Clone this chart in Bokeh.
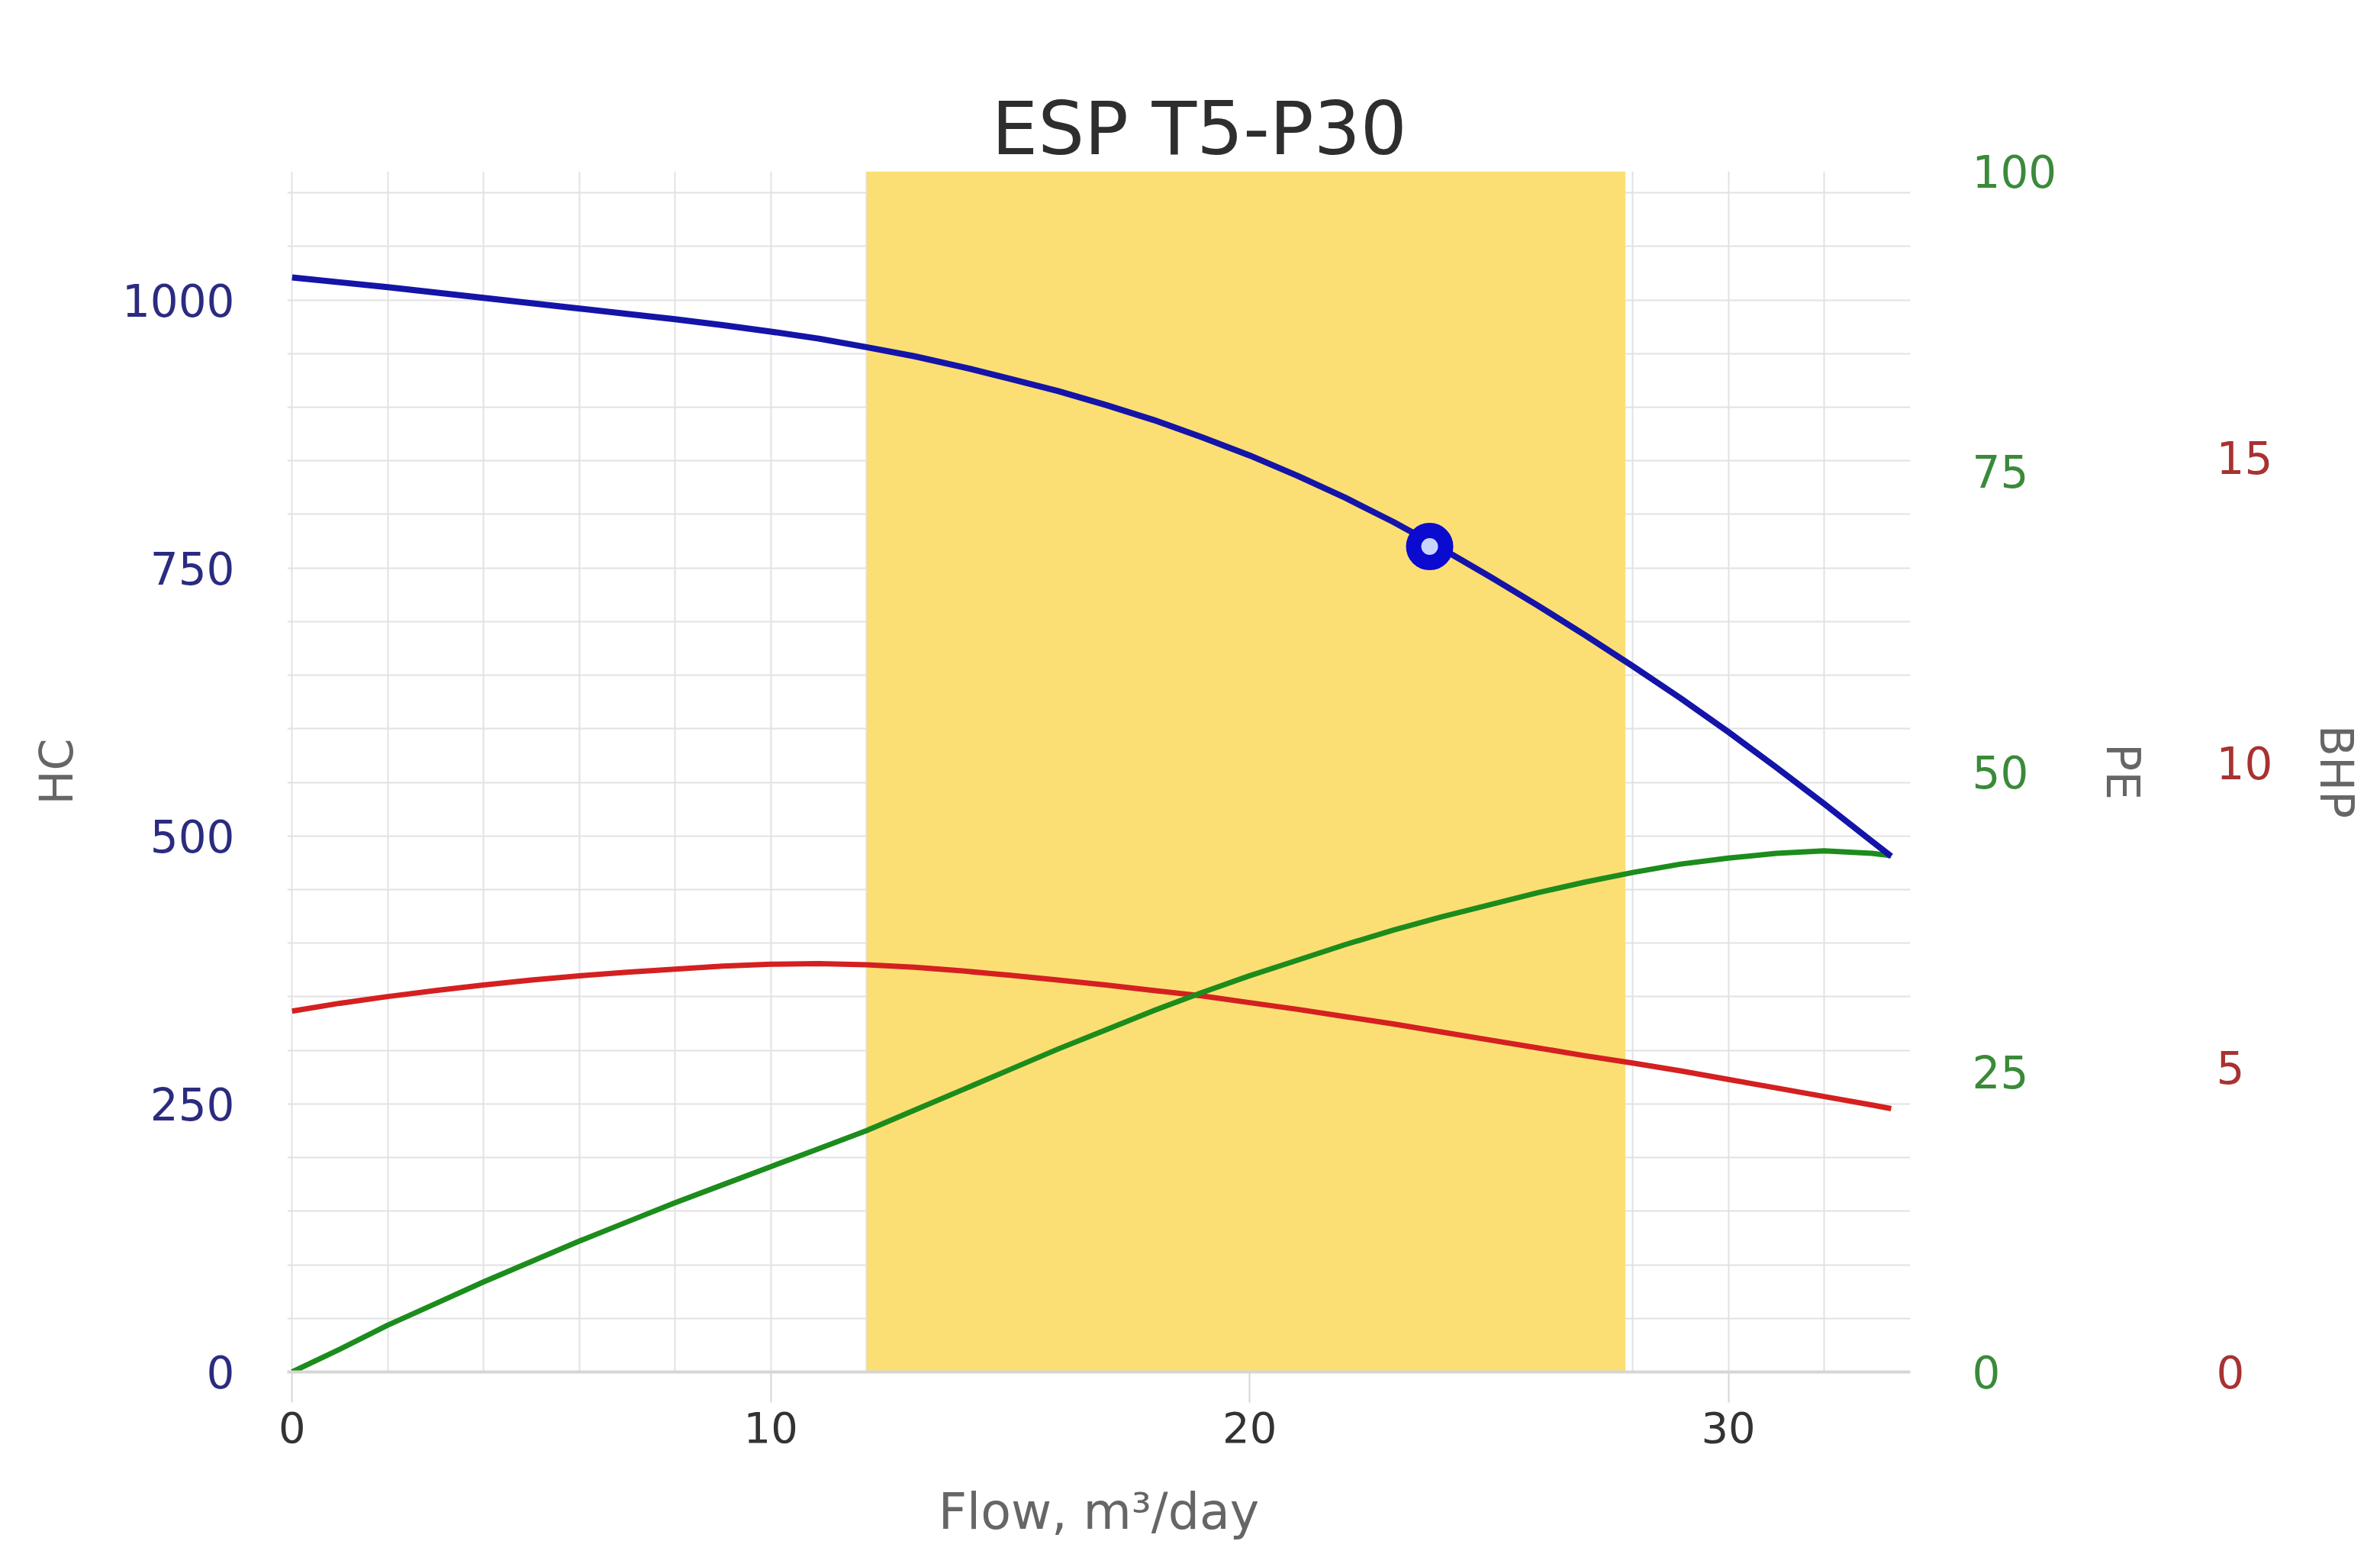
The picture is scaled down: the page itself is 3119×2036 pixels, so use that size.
from bokeh.plotting import figure
from bokeh.models import Range1d, LinearAxis, FixedTicker, SingleIntervalTicker, Grid, Title
from bokeh.embed import file_html
from bokeh.resources import INLINE

# ---- data ----
flow = [0, 1, 2, 3, 4, 5, 6, 7, 8, 9, 10, 11, 12, 13, 14, 15, 16, 17, 18, 19, 20,
        21, 22, 23, 24, 25, 26, 27, 28, 29, 30, 31, 32, 33, 33.4]
hc = [1021, 1016.5, 1012, 1007, 1002, 997, 992, 987, 982, 976.5, 970.5, 964, 956, 947.5, 937.5,
      926.5, 915, 902, 888, 872, 855, 836, 815.5, 793, 768.5, 742.5, 715.5, 687.5, 658.5,
      628.5, 597, 564, 530, 495, 481]
pe = [0, 1.9, 3.9, 5.7, 7.5, 9.2, 10.9, 12.5, 14.1, 15.6, 17.1, 18.6, 20.1, 21.8, 23.5,
      25.2, 26.9, 28.5, 30.1, 31.6, 33.0, 34.3, 35.6, 36.8, 37.9, 38.9, 39.9, 40.8, 41.6,
      42.3, 42.8, 43.2, 43.4, 43.2, 43.0]
bhp = [5.92, 6.05, 6.16, 6.26, 6.35, 6.43, 6.50, 6.56, 6.61, 6.66, 6.69, 6.70, 6.68, 6.64,
       6.58, 6.51, 6.43, 6.35, 6.26, 6.17, 6.06, 5.95, 5.83, 5.71, 5.58, 5.45, 5.32, 5.19,
       5.07, 4.94, 4.80, 4.66, 4.52, 4.38, 4.32]

band_start = [12.0]
band_end = [27.85]
op_flow = [23.76]
op_hc = [770]

hc_ticks = [0, 250, 500, 750, 1000]
pe_ticks = [0, 25, 50, 75, 100]
bhp_ticks = [0, 5, 10, 15]
flow_ticks = [0, 10, 20, 30]
title_text = "ESP T5-P30"

FONT = "DejaVu Sans"
BLUE = "#1414a8"
GREEN = "#1c8c1c"
RED = "#d42020"

p = figure(width=3100, height=2020, output_backend="svg", toolbar_location=None, title=None,
           x_range=Range1d(-0.1, 33.8), y_range=Range1d(0, 1120),
           min_border_left=376, min_border_right=585, min_border_top=224, min_border_bottom=222)
p.extra_y_ranges = {"pe": Range1d(0, 100), "bhp": Range1d(0, 19.7)}
p.outline_line_color = None
p.background_fill_color = "white"
p.grid.visible = False

# x axis (bottom) - take it before adding anything above
xa = p.below[0]

# empty top axis used only as a gap between the title and the plotting area
gap = LinearAxis(ticker=FixedTicker(ticks=[]), axis_line_color=None,
                 major_tick_line_color=None, minor_tick_line_color=None,
                 major_tick_out=95, major_tick_in=0, minor_tick_out=0, minor_tick_in=0,
                 major_label_standoff=0, axis_label_standoff=0)
p.add_layout(gap, "above")

# title, stacked above the gap
p.add_layout(Title(text=title_text, align="left", vertical_align="bottom",
                   text_font=FONT, text_font_size="96px", text_font_style="normal",
                   text_color="#2e2e2e", offset=923, standoff=0), "above")

# grids
p.add_layout(Grid(dimension=0, ticker=SingleIntervalTicker(interval=2),
                  grid_line_color="#e2e2e2", grid_line_width=2))
p.add_layout(Grid(dimension=1, ticker=SingleIntervalTicker(interval=50),
                  grid_line_color="#e2e2e2", grid_line_width=2))

# band
p.quad(left=band_start, right=band_end, bottom=[0], top=[1120],
       fill_color="#fcdf74", line_color=None)

# curves
p.line(flow, bhp, y_range_name="bhp", line_color=RED, line_width=7, line_join="round")
p.line(flow, pe, y_range_name="pe", line_color=GREEN, line_width=7, line_join="round")
p.line(flow, hc, line_color=BLUE, line_width=8, line_join="round")
p.scatter(op_flow, op_hc, size=42, fill_color="#c8d4ff", line_color="#0a0ad0", line_width=20)

xa.ticker = FixedTicker(ticks=flow_ticks)
xa.axis_line_color = "#d6d6d6"
xa.axis_line_width = 4
xa.major_tick_line_color = "#d6d6d6"
xa.major_tick_line_width = 2
xa.major_tick_out = 40
xa.major_tick_in = 0
xa.minor_tick_line_color = None
xa.major_label_text_font = FONT
xa.major_label_text_font_size = "56px"
xa.major_label_text_color = "#333333"
xa.major_label_standoff = 12
xa.axis_label = "Flow, m³/day"
xa.axis_label_text_font = FONT
xa.axis_label_text_font_size = "65px"
xa.axis_label_text_font_style = "normal"
xa.axis_label_text_color = "#666666"
xa.axis_label_standoff = 50

def style_y(ax, color, standoff, label, label_standoff):
    ax.axis_line_color = None
    ax.major_tick_line_color = None
    ax.minor_tick_line_color = None
    ax.major_tick_out = 0
    ax.major_tick_in = 0
    ax.major_label_text_font = FONT
    ax.major_label_text_font_size = "58px"
    ax.major_label_text_color = color
    ax.major_label_standoff = standoff
    ax.axis_label = label
    ax.axis_label_text_font = FONT
    ax.axis_label_text_font_size = "60px"
    ax.axis_label_text_font_style = "normal"
    ax.axis_label_text_color = "#666666"
    ax.axis_label_standoff = label_standoff

ya = p.left[0]
ya.ticker = FixedTicker(ticks=hc_ticks)
style_y(ya, "#2b2b80", 69, "HC", 48)

pe_axis = LinearAxis(y_range_name="pe", ticker=FixedTicker(ticks=pe_ticks))
style_y(pe_axis, "#3a8a3a", 81, "PE", 49)
p.add_layout(pe_axis, "right")

bhp_axis = LinearAxis(y_range_name="bhp", ticker=FixedTicker(ticks=bhp_ticks))
style_y(bhp_axis, "#a83232", 84, "BHP", 46)
p.add_layout(bhp_axis, "right")

open("out.html", "w").write(file_html(p, INLINE))
